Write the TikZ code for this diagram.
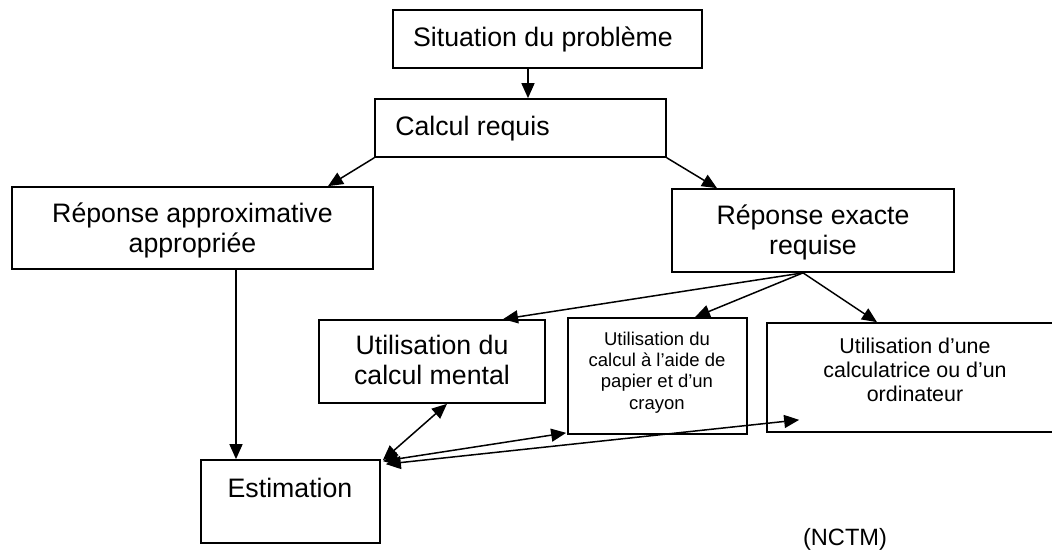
\documentclass[tikz,border=0pt]{standalone}
\usepackage{fontspec}
\setmainfont{Liberation Sans}
\usetikzlibrary{arrows.meta,calc}
\begin{document}
\begin{tikzpicture}[x=1pt,y=-1pt,
  >={Triangle[length=15pt,width=13pt]},
  box/.style={draw,line width=1.7pt,inner sep=0pt},
  conn/.style={line width=1.5pt},
  bigtxt/.style={font=\fontsize{26.7pt}{30pt}\selectfont,align=center,inner sep=0pt},
  midtxt/.style={font=\fontsize{21.4pt}{24.3pt}\selectfont,align=center,inner sep=0pt},
  smalltxt/.style={font=\fontsize{18.5pt}{21.3pt}\selectfont,align=center,inner sep=0pt},
  srctxt/.style={font=\fontsize{23.6pt}{27pt}\selectfont,inner sep=0pt}]
\useasboundingbox (0,0) rectangle (1052,549);
\fill[white] (0,0) rectangle (1052,549);

% boxes
\node[box,minimum width=309pt,minimum height=58pt] (sit) at (547.5,39) {};
\node[box,minimum width=291pt,minimum height=58pt] (calc) at (520.5,128) {};
\node[box,minimum width=361pt,minimum height=82pt] (approx) at (192.5,228) {};
\node[box,minimum width=282pt,minimum height=83pt] (exacte) at (813,230.5) {};
\node[box,minimum width=226pt,minimum height=83pt] (mental) at (432,361.5) {};
\node[box,minimum width=179pt,minimum height=116pt] (papier) at (657.5,376) {};
\node[box,minimum width=296pt,minimum height=109pt] (calcu) at (915,377.5) {};
\node[box,minimum width=179pt,minimum height=83pt] (estim) at (290.5,501.5) {};

% texts
\node[bigtxt,anchor=base] (tsit) at (543,46) {Situation du problème};
\node[bigtxt,anchor=base] (tcalc) at (472.5,135) {Calcul requis};
\node[bigtxt] (tapprox) at (192.5,230) {Réponse approximative\\appropriée};
\node[bigtxt] (texacte) at (813,232.5) {Réponse exacte\\requise};
\node[bigtxt] (tmental) at (432,360) {Utilisation du\\calcul mental};
\node[smalltxt] (tpapier) at (657,372.5) {Utilisation du\\calcul à l’aide de\\papier et d’un\\crayon};
\node[midtxt] (tcalcu) at (915,370) {Utilisation d’une\\calculatrice ou d’un\\ordinateur};
\node[bigtxt,anchor=base] (testim) at (290,497) {Estimation};
\node[srctxt,anchor=base] (src) at (845,545) {(NCTM)};

% connectors
\coordinate (s1) at ([xshift=-19.5pt]sit.south);
\draw[conn,->] (s1) -- (s1 |- calc.north);
\draw[conn,->] (calc.south west) -- ([xshift=135.5pt]approx.north);
\draw[conn,->] (calc.south east) -- ([xshift=-96pt]exacte.north);
\coordinate (e1) at ([xshift=-10pt]exacte.south);
\draw[conn,->] (e1) -- ([xshift=71pt]mental.north);
\draw[conn,->] (e1) -- ([xshift=37.5pt]papier.north);
\draw[conn,->] (e1) -- ([xshift=-38pt]calcu.north);
\coordinate (a1) at ([xshift=43.5pt]approx.south);
\draw[conn,->] (a1) -- (a1 |- estim.north);
\draw[conn,<->] ([xshift=2pt,yshift=-1pt]estim.north east) -- ([xshift=15pt]mental.south);
\draw[conn,<->] ([xshift=2pt,yshift=-2pt]estim.north east) -- ([xshift=-1pt,yshift=2pt]papier.south west);
\draw[conn,<->] ([xshift=5pt,yshift=-5pt]estim.north east) -- ([xshift=33pt,yshift=13pt]calcu.south west);
\end{tikzpicture}
\end{document}
